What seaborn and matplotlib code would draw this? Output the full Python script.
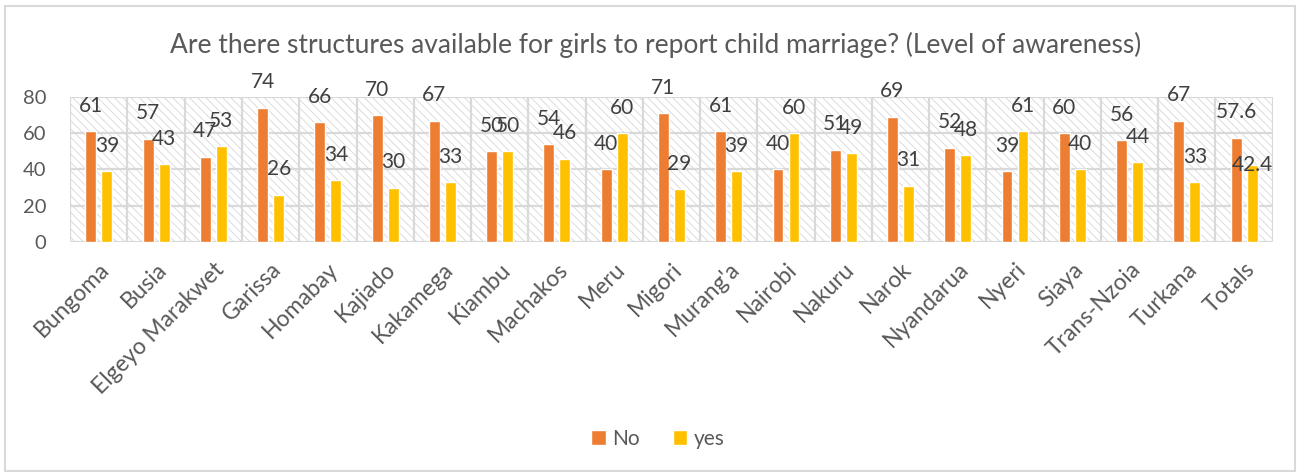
import matplotlib
matplotlib.use("Agg")
import matplotlib.pyplot as plt
from matplotlib.patches import Rectangle
import seaborn as sns
import pandas as pd

counties = ["Bungoma", "Busia", "Elgeyo Marakwet", "Garissa", "Homabay", "Kajiado",
            "Kakamega", "Kiambu", "Machakos", "Meru", "Migori", "Murang'a", "Nairobi",
            "Nakuru", "Narok", "Nyandarua", "Nyeri", "Siaya", "Trans-Nzoia", "Turkana",
            "Totals"]
no_vals = [61, 57, 47, 74, 66, 70, 67, 50, 54, 40, 71, 61, 40, 51, 69, 52, 39, 60, 56, 67, 57.6]
yes_vals = [39, 43, 53, 26, 34, 30, 33, 50, 46, 60, 29, 39, 60, 49, 31, 48, 61, 40, 44, 33, 42.4]
series = ["No", "yes"]
colors = ["#ED7D31", "#FFC000"]
y_ticks = [0, 20, 40, 60, 80]
title = "Are there structures available for girls to report child marriage? (Level of awareness)"

df = pd.DataFrame({
    "county": counties * 2,
    "answer": [series[0]] * len(counties) + [series[1]] * len(counties),
    "value": no_vals + yes_vals,
})

sns.set_theme(style="white")
plt.rcParams["font.family"] = ["Lato", "DejaVu Sans"]
plt.rcParams["hatch.linewidth"] = 0.55

text_color = "#595959"
grid_color = "#d9d9d9"

fig = plt.figure(figsize=(13, 4.74), dpi=100)
ax = fig.add_axes([0.054, 0.4895, 0.925, 0.306])

# hatched plot-area background
ax.add_patch(Rectangle((0, 0), 1, 1, transform=ax.transAxes, facecolor="white",
                       edgecolor="#d4d4d4", hatch="\\\\\\\\", lw=0, zorder=0))

sns.barplot(data=df, x="county", y="value", hue="answer", hue_order=series,
            palette=colors, width=0.56, gap=0.32, ax=ax, legend=False,
            saturation=1, zorder=3)

ax.set_ylim(0, 80)
ax.set_xlim(-0.5, len(counties) - 0.5)
ax.set_yticks(y_ticks)
ax.set_xlabel("")
ax.set_ylabel("")
for s in ax.spines.values():
    s.set_visible(False)

# grid: horizontal at ticks, vertical at category boundaries
for y in y_ticks:
    ax.axhline(y, color=grid_color, lw=1.6, zorder=1)
for i in range(len(counties) + 1):
    ax.axvline(i - 0.5, color=grid_color, lw=1.6, zorder=1)

ax.tick_params(axis="y", length=0, pad=17, labelsize=14.5, labelcolor=text_color)
ax.tick_params(axis="x", length=0, pad=12, labelsize=16.5, labelcolor=text_color)
plt.setp(ax.get_xticklabels(), rotation=45, ha="right", rotation_mode="anchor")

# value labels
for container, vals in zip(ax.containers, [no_vals, yes_vals]):
    for bar, v in zip(container, vals):
        txt = f"{v:g}"
        off = 0 if txt == "42.4" else 14
        ax.text(bar.get_x() + bar.get_width() / 2, v + off, txt, ha="center",
                va="center", fontsize=15, color="#404040", clip_on=False, zorder=4)

fig.text(0.504, 0.905, title, ha="center", va="center", fontsize=19, color=text_color)

handles = [Rectangle((0, 0), 1, 1, facecolor=c) for c in colors]
fig.legend(handles, series, loc="center", bbox_to_anchor=(0.506, 0.074), ncol=2,
           frameon=False, fontsize=15, labelcolor=text_color, handlelength=0.7,
           handleheight=0.7, handletextpad=0.3, columnspacing=1.6)

fig.patches.append(Rectangle((0.004, 0.006), 0.992, 0.982, transform=fig.transFigure,
                             fill=False, edgecolor=grid_color, lw=1.5))

fig.savefig("out.png", dpi=100)
